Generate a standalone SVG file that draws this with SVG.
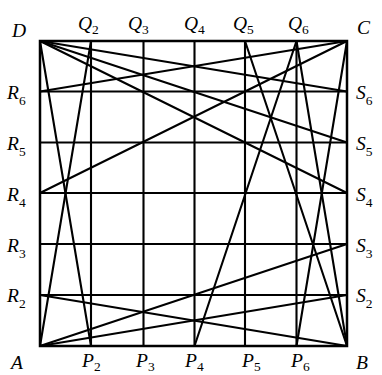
<svg xmlns="http://www.w3.org/2000/svg" width="382" height="375" viewBox="0 0 382 375">
<style>
.g{stroke:#000;stroke-width:2.1;fill:none}
.b{stroke:#000;stroke-width:2.5;fill:none}
.l{stroke:#000;stroke-width:2.1;fill:none;stroke-linecap:round}
text{font-family:"Liberation Serif","Times New Roman",serif;font-style:italic;font-size:19.5px;fill:#000}
.s{font-size:13.5px;font-style:normal}
</style>
<rect width="382" height="375" fill="#fff"/>
<g id="grid">
<rect class="b" x="40" y="41" width="307" height="305"/>
<path class="g" d="M91 41V346M143.5 41V346M194.5 41V346M245 41V346M296.5 41V346M40 91.5H347M40 142.5H347M40 193H347M40 244H347M40 295H347"/>
</g>
<g id="connectors">
<line class="l" x1="40" y1="41" x2="347" y2="91.5"/>
<line class="l" x1="40" y1="41" x2="347" y2="142.5"/>
<line class="l" x1="40" y1="41" x2="347" y2="193"/>
<line class="l" x1="40" y1="41" x2="91" y2="346"/>
<line class="l" x1="91" y1="41" x2="40" y2="346"/>
<line class="l" x1="40" y1="346" x2="347" y2="295"/>
<line class="l" x1="40" y1="346" x2="347" y2="244"/>
<line class="l" x1="40" y1="295" x2="347" y2="346"/>
<line class="l" x1="245" y1="41" x2="347" y2="346"/>
<line class="l" x1="296.5" y1="41" x2="347" y2="346"/>
<line class="l" x1="296.5" y1="41" x2="194.5" y2="346"/>
<line class="l" x1="347" y1="41" x2="296.5" y2="346"/>
<line class="l" x1="347" y1="41" x2="40" y2="91.5"/>
<line class="l" x1="347" y1="41" x2="40" y2="193"/>
</g>
<g id="labels">
<g id="node-D"><text x="12" y="37">D</text></g>
<g id="node-C"><text x="357" y="34">C</text></g>
<g id="node-A"><text x="11" y="369">A</text></g>
<g id="node-B"><text x="356" y="369">B</text></g>
<g id="node-Q2"><text x="78" y="30">Q<tspan class="s" dy="4">2</tspan></text></g>
<g id="node-Q3"><text x="128" y="30">Q<tspan class="s" dy="4">3</tspan></text></g>
<g id="node-Q4"><text x="184" y="30">Q<tspan class="s" dy="4">4</tspan></text></g>
<g id="node-Q5"><text x="233" y="30">Q<tspan class="s" dy="4">5</tspan></text></g>
<g id="node-Q6"><text x="288" y="30">Q<tspan class="s" dy="4">6</tspan></text></g>
<g id="node-R6"><text x="7" y="99">R<tspan class="s" dy="6">6</tspan></text></g>
<g id="node-R5"><text x="7" y="150">R<tspan class="s" dy="6">5</tspan></text></g>
<g id="node-R4"><text x="7" y="200.5">R<tspan class="s" dy="6">4</tspan></text></g>
<g id="node-R3"><text x="7" y="251.5">R<tspan class="s" dy="6">3</tspan></text></g>
<g id="node-R2"><text x="7" y="302">R<tspan class="s" dy="6">2</tspan></text></g>
<g id="node-S6"><text x="356" y="99">S<tspan class="s" dy="6">6</tspan></text></g>
<g id="node-S5"><text x="356" y="150">S<tspan class="s" dy="6">5</tspan></text></g>
<g id="node-S4"><text x="356" y="200.5">S<tspan class="s" dy="6">4</tspan></text></g>
<g id="node-S3"><text x="356" y="251.5">S<tspan class="s" dy="6">3</tspan></text></g>
<g id="node-S2"><text x="356" y="302">S<tspan class="s" dy="6">2</tspan></text></g>
<g id="node-P2"><text x="82" y="367">P<tspan class="s" dy="4">2</tspan></text></g>
<g id="node-P3"><text x="136" y="367">P<tspan class="s" dy="4">3</tspan></text></g>
<g id="node-P4"><text x="185" y="367">P<tspan class="s" dy="4">4</tspan></text></g>
<g id="node-P5"><text x="242" y="367">P<tspan class="s" dy="4">5</tspan></text></g>
<g id="node-P6"><text x="291" y="367">P<tspan class="s" dy="4">6</tspan></text></g>
</g>
</svg>
